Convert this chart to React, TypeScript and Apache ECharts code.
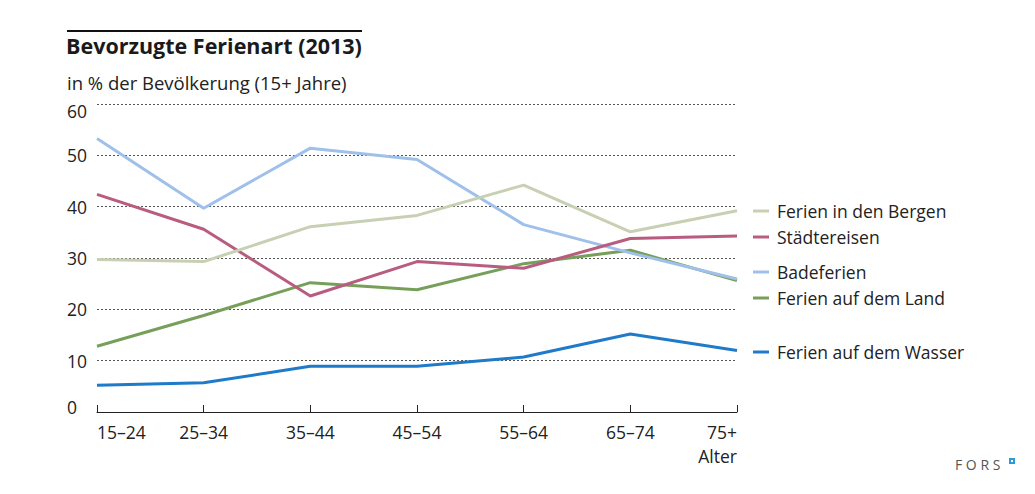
import React, { useEffect, useRef } from "react";
import * as echarts from "echarts";

const categories = ["15–24", "25–34", "35–44", "45–54", "55–64", "65–74", "75+"];
const seriesNames = [
  "Ferien in den Bergen",
  "Städtereisen",
  "Badeferien",
  "Ferien auf dem Land",
  "Ferien auf dem Wasser",
];
const bergen = [29.7, 29.3, 36.1, 38.3, 44.2, 35.1, 39.2];
const staedte = [42.4, 35.6, 22.6, 29.3, 28.0, 33.8, 34.3];
const bade = [53.3, 39.7, 51.4, 49.2, 36.5, 31.0, 25.9];
const land = [12.8, 18.8, 25.2, 23.8, 28.9, 31.5, 25.6];
const wasser = [5.2, 5.7, 8.9, 8.9, 10.7, 15.2, 12.0];
const colors = ["#c8d0b3", "#b85c80", "#9ec0ea", "#76a05a", "#1f7bc9"];
const legendTops = [211, 237, 272, 298, 352];

const FONT = "'Open Sans', 'Noto Sans', sans-serif";

export default function App() {
  const ref = useRef<HTMLDivElement>(null);
  useEffect(() => {
    if (!ref.current) return;
    const chart = echarts.init(ref.current, undefined, { renderer: "svg" });
    const dataSets = [bergen, staedte, bade, land, wasser];
    chart.setOption({
      animation: false,
      backgroundColor: "#ffffff",
      textStyle: { fontFamily: FONT },
      grid: { left: 97, right: 298, top: 104, bottom: 82, containLabel: false },
      legend: seriesNames.map((n, i) => ({
        data: [n],
        left: 753,
        top: legendTops[i] - 12,
        padding: 0,
        itemWidth: 16,
        itemHeight: 3,
        itemGap: 10,
        icon: "rect",
        selectedMode: false,
        textStyle: { fontFamily: FONT, fontSize: 17.5, color: "#222", lineHeight: 24, padding: [0, 0, 0, 3] },
      })),
      xAxis: {
        type: "category",
        data: categories,
        boundaryGap: false,
        axisLine: { show: true, lineStyle: { color: "#222", width: 1 } },
        axisTick: { show: true, inside: true, length: 7, lineStyle: { color: "#222" } },
        axisLabel: {
          color: "#222",
          fontSize: 17.5,
          fontFamily: FONT,
          margin: 8,
          lineHeight: 24,
          alignMinLabel: "left",
          alignMaxLabel: "right",
          formatter: (v: string) => (v === "75+" ? "75+\nAlter" : v),
        },
        splitLine: { show: false },
      },
      yAxis: {
        type: "value",
        min: 0,
        max: 60,
        interval: 10,
        axisLine: { show: false },
        axisTick: { show: false },
        axisLabel: {
          color: "#222",
          fontSize: 17.5,
          fontFamily: FONT,
          align: "left",
          margin: 30,
          formatter: (v: number) => (v === 60 ? `{t|${v}}` : v === 0 ? `{b|${v}}` : `${v}`),
          rich: {
            t: { fontSize: 17.5, fontFamily: FONT, color: "#222", padding: [14, 0, 0, 0] },
            b: { fontSize: 17.5, fontFamily: FONT, color: "#222", padding: [0, 0, 11, 0] },
          },
        },
        splitLine: { show: true, lineStyle: { color: "#555", type: [2, 2], width: 1 } },
      },
      series: seriesNames.map((n, i) => ({
        name: n,
        type: "line",
        data: dataSets[i],
        symbol: "none",
        color: colors[i],
        lineStyle: { width: 3, color: colors[i] },
        z: 10 - i,
      })),
      graphic: [
        { type: "line", shape: { x1: 67, y1: 31, x2: 362, y2: 31 }, style: { stroke: "#111", lineWidth: 2 } },
        {
          type: "text",
          left: 66,
          top: 34,
          style: { text: "Bevorzugte Ferienart (2013)", font: `bold 21.5px ${FONT}`, fill: "#1a1a1a" },
        },
        {
          type: "text",
          left: 67,
          top: 73,
          style: { text: "in % der Bevölkerung (15+ Jahre)", font: `18.5px ${FONT}`, fill: "#222" },
        },
        {
          type: "text",
          left: 955,
          top: 457,
          style: { text: "F O R S", font: `14px ${FONT}`, fill: "#555" },
        },
        { type: "rect", shape: { x: 1009, y: 458, width: 6, height: 6 }, style: { fill: "#2a9ad8" } },
        { type: "rect", shape: { x: 1011, y: 460, width: 2, height: 2 }, style: { fill: "#ffffff" } },
      ],
    });
    return () => chart.dispose();
  }, []);
  return <div ref={ref} style={{ width: 1035, height: 494, margin: -8 }} />;
}
